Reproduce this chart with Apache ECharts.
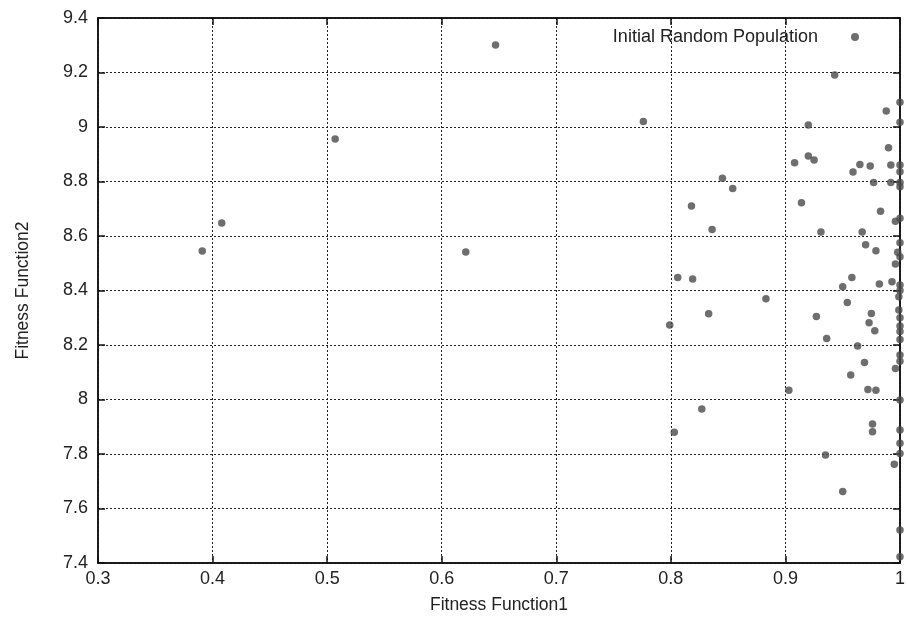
<!DOCTYPE html>
<html style="height: 100%">
<head>
    <meta charset="utf-8">
</head>
<body style="height: 100%; margin: 0; background: #fff">
<div id="container" style="width: 908px; height: 619px"></div>

<script src="https://cdn.jsdelivr.net/npm/echarts@6/dist/echarts.min.js"></script>
<script type="text/javascript">
    // axis ticks
    var xTicks = [0.3, 0.4, 0.5, 0.6, 0.7, 0.8, 0.9, 1];
    var yTicks = [7.4, 7.6, 7.8, 8, 8.2, 8.4, 8.6, 8.8, 9, 9.2, 9.4];

    // Fitness Function1 / Fitness Function2 pairs
    var farPoints = [
        [0.391, 8.545], [0.408, 8.648], [0.507, 8.956], [0.621, 8.541],
        [0.647, 9.301], [0.776, 9.020]
    ];
    var midPoints = [
        [0.845, 8.812], [0.854, 8.774], [0.818, 8.710], [0.836, 8.624],
        [0.806, 8.448], [0.819, 8.442], [0.883, 8.370], [0.833, 8.315],
        [0.799, 8.273], [0.827, 7.965], [0.803, 7.880]
    ];
    var nearPoints = [
        [0.943, 9.191], [0.988, 9.059], [0.920, 9.007], [0.990, 8.924],
        [0.908, 8.869], [0.920, 8.894], [0.925, 8.879], [0.959, 8.835],
        [0.965, 8.862], [0.974, 8.857], [0.992, 8.861], [0.977, 8.796],
        [0.992, 8.796], [0.914, 8.722], [0.983, 8.691], [0.996, 8.654],
        [0.931, 8.615], [0.967, 8.615], [0.970, 8.568], [0.979, 8.546],
        [0.958, 8.448], [0.950, 8.414], [0.982, 8.424], [0.993, 8.432],
        [0.954, 8.356], [0.927, 8.305], [0.975, 8.316], [0.973, 8.282],
        [0.978, 8.252], [0.936, 8.224], [0.963, 8.196], [0.969, 8.136],
        [0.996, 8.114], [0.957, 8.090], [0.903, 8.034], [0.972, 8.037],
        [0.979, 8.034], [0.976, 7.910], [0.976, 7.882], [0.935, 7.796],
        [0.995, 7.762], [0.950, 7.662]
    ];
    var edgePoints = [
        [1.0, 9.091], [1.0, 9.017], [1.0, 8.861], [1.0, 8.836],
        [1.0, 8.796], [1.0, 8.781], [1.0, 8.665], [0.998, 8.540],
        [1.0, 8.575], [1.0, 8.524], [0.996, 8.497], [1.0, 8.420],
        [1.0, 8.400], [0.999, 8.377], [0.999, 8.328], [1.0, 8.300],
        [1.0, 8.270], [1.0, 8.250], [1.0, 8.220], [1.0, 8.163],
        [1.0, 8.140], [1.0, 7.998], [1.0, 7.888], [1.0, 7.839],
        [1.0, 7.802], [1.0, 7.521], [1.0, 7.423]
    ];
    var population = farPoints.concat(midPoints, nearPoints, edgePoints);

    var chart = echarts.init(document.getElementById('container'), null, {
        renderer: 'canvas'
    });

    var font = 'Liberation Sans, Arial, sans-serif';
    var gridLine = {
        show: true,
        lineStyle: { color: '#222', type: [2, 2], width: 1 }
    };
    var frame = { show: true, lineStyle: { color: '#111', width: 1.5 } };
    var ticks = { show: true, inside: true, length: 7, lineStyle: { color: '#111', width: 1.5 } };

    var option = {
        animation: false,
        backgroundColor: '#fff',
        grid: {
            left: 98, right: 4, top: 18, bottom: 56,
            show: true, borderColor: '#111', borderWidth: 1.5
        },
        legend: {
            right: 44,
            top: 23,
            align: 'right',
            icon: 'circle',
            itemWidth: 8,
            itemHeight: 8,
            textStyle: {
                fontFamily: font, fontSize: 18, color: '#222',
                padding: [0, 28, 0, 0]
            },
            data: ['Initial Random Population']
        },
        xAxis: [{
            type: 'value',
            min: xTicks[0],
            max: xTicks[xTicks.length - 1],
            interval: 0.1,
            name: 'Fitness Function1',
            nameLocation: 'middle',
            nameGap: 33,
            nameTextStyle: { fontFamily: font, fontSize: 17.5, color: '#222' },
            axisLine: frame,
            axisTick: ticks,
            splitLine: gridLine,
            axisLabel: { fontFamily: font, fontSize: 18, color: '#222', margin: 7 }
        }, {
            type: 'value',
            position: 'top',
            min: xTicks[0],
            max: xTicks[xTicks.length - 1],
            interval: 0.1,
            axisLine: frame,
            axisTick: ticks,
            axisLabel: { show: false },
            splitLine: { show: false }
        }],
        yAxis: [{
            type: 'value',
            min: yTicks[0],
            max: yTicks[yTicks.length - 1],
            interval: 0.2,
            name: 'Fitness Function2',
            nameLocation: 'middle',
            nameGap: 66,
            nameTextStyle: { fontFamily: font, fontSize: 17.5, color: '#222' },
            axisLine: frame,
            axisTick: ticks,
            splitLine: gridLine,
            axisLabel: { fontFamily: font, fontSize: 18, color: '#222', margin: 10 }
        }, {
            type: 'value',
            position: 'right',
            min: yTicks[0],
            max: yTicks[yTicks.length - 1],
            interval: 0.2,
            axisLine: frame,
            axisTick: ticks,
            axisLabel: { show: false },
            splitLine: { show: false }
        }],
        series: [{
            name: 'Initial Random Population',
            type: 'scatter',
            symbol: 'circle',
            symbolSize: 7.5,
            itemStyle: { color: '#4a4a4a' },
            data: population
        }]
    };

    chart.setOption(option);
</script>
</body>
</html>
